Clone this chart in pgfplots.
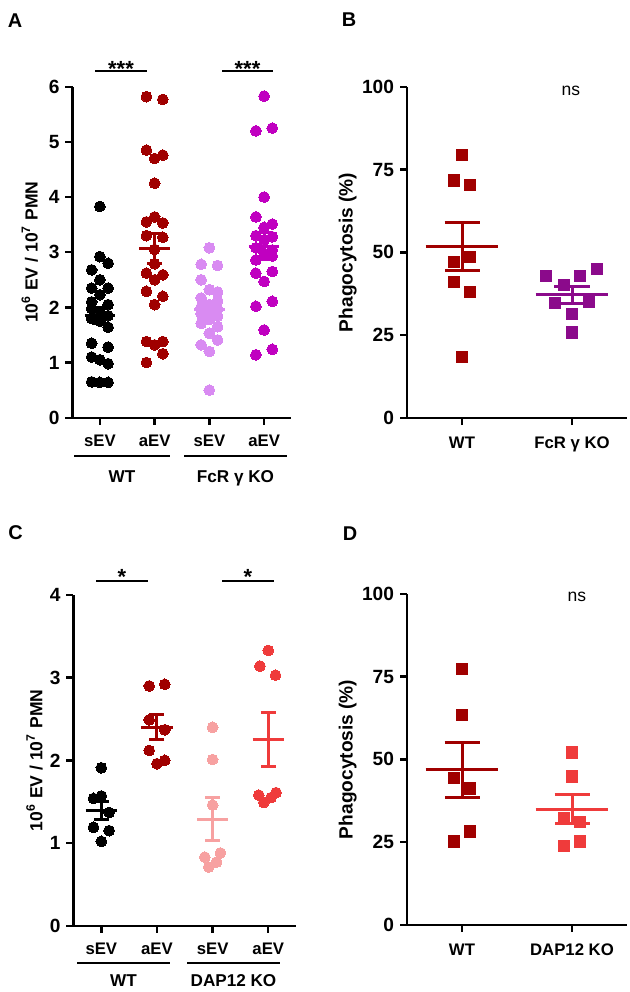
\documentclass[border=0pt]{standalone}
\usepackage{fontspec}
\setmainfont{Liberation Sans}
\usepackage{pgfplots}
\pgfplotsset{compat=1.18}
\definecolor{cblack}{HTML}{000000}
\definecolor{cdred}{HTML}{A00000}
\definecolor{clvio}{HTML}{D98BF2}
\definecolor{cmag}{HTML}{C000C0}
\definecolor{cpur}{HTML}{8B0A8B}
\definecolor{cpink}{HTML}{F7A1A1}
\definecolor{cred}{HTML}{EF3B3B}

\pgfplotsset{
 gp/.style={scale only axis, axis lines*=left,
  axis line style={line width=1.2bp, black},
  tick style={line width=1.2bp, black}, major tick length=3.5bp, tick align=outside,
  clip=false, ymin=0,
  /pgf/number format/assume math mode=true,
  yticklabel={\textbf{\pgfmathprintnumber{\tick}}},
  yticklabel style={font=\bfseries\fontsize{9.6}{10}\selectfont, xshift=0.5bp},
  xticklabel style={font=\bfseries\fontsize{8.4}{9}\selectfont, yshift=-1.5bp},
  ylabel style={font=\bfseries\fontsize{8.8}{10}\selectfont, anchor=center},
 },
 dots/.style={only marks, mark=*, mark size=2.7bp, mark options={fill=#1, draw=#1, line width=0pt}},
 squares/.style={only marks, mark=square*, mark size=2.8bp, mark options={fill=#1, draw=#1, line width=0pt}},
 meanl/.style={#1, line width=1.5bp, mark=none},
 sem/.style 2 args={mark=none, #1, forget plot, error bars/.cd, y dir=both, y explicit,
   error mark=-,
   error bar style={line width=1.5bp, #1}, error mark options={rotate=90, #1, line width=1.5bp, mark size=#2}},
}

\begin{document}
\begin{tikzpicture}
\useasboundingbox (0,0) rectangle (315bp,-496bp);

% ---------------- Panel A ----------------
\begin{axis}[gp, at={(36.25bp,-208.85bp)}, anchor=south west,
  width=109.5bp, height=165.5bp, xmin=0.5, xmax=4.5, ymax=6,
  ytick={0,1,2,3,4,5,6}, xtick={1,2,3,4}, xticklabels={sEV,aEV,sEV,aEV},
  ylabel={10\textsuperscript{6} EV / 10\textsuperscript{7} PMN},
  ylabel style={at={(axis description cs:-0.195,0.5)}}]
\addplot[dots=cblack] table {
x y
1.00 3.83
1.00 2.92
1.15 2.80
0.85 2.68
1.00 2.50
0.85 2.35
1.15 2.35
1.00 2.23
0.85 2.10
1.15 2.05
0.85 1.98
1.00 1.92
1.15 1.85
0.85 1.80
1.00 1.75
1.15 1.64
0.85 1.35
1.15 1.28
0.85 1.10
1.00 1.05
1.15 0.98
0.85 0.65
1.00 0.64
1.15 0.64
};
\addplot[dots=cdred] table {
x y
1.85 5.82
2.15 5.77
1.85 4.85
2.00 4.70
2.15 4.76
2.00 4.25
2.00 3.64
1.85 3.55
2.15 3.53
1.85 3.30
2.15 3.27
2.00 3.05
2.00 2.79
1.85 2.62
2.15 2.59
2.00 2.50
1.85 2.29
2.15 2.20
2.00 2.05
1.85 1.38
2.15 1.38
2.00 1.32
2.15 1.16
1.85 1.00
};
\addplot[dots=clvio] table {
x y
3.00 3.08
2.85 2.78
3.15 2.76
2.85 2.50
3.00 2.32
3.15 2.28
2.85 2.17
3.15 2.12
3.00 2.05
2.85 2.00
3.15 1.97
3.00 1.93
2.85 1.88
3.15 1.84
3.00 1.78
2.85 1.71
3.15 1.65
3.00 1.53
3.15 1.41
2.85 1.32
3.00 1.20
3.00 0.50
};
\addplot[dots=cmag] table {
x y
4.00 5.83
3.85 5.20
4.15 5.25
4.00 4.00
3.85 3.64
4.15 3.51
4.00 3.45
3.85 3.30
4.15 3.28
4.00 3.22
3.85 3.08
4.15 3.04
4.00 2.98
4.15 2.93
3.85 2.86
4.15 2.65
3.85 2.62
4.00 2.47
4.15 2.11
3.85 2.02
4.00 1.59
4.15 1.24
3.85 1.14
};
\addplot[meanl=cblack] coordinates {(0.72,1.85) (1.28,1.85)};
\addplot[sem={cblack}{3.75bp}] coordinates {(1,1.85) +- (0,0.15)};
\addplot[meanl=cdred] coordinates {(1.72,3.07) (2.28,3.07)};
\addplot[sem={cdred}{3.75bp}] coordinates {(2,3.07) +- (0,0.27)};
\addplot[meanl=clvio] coordinates {(2.72,1.96) (3.28,1.96)};
\addplot[sem={clvio}{3.75bp}] coordinates {(3,1.96) +- (0,0.12)};
\addplot[meanl=cmag] coordinates {(3.72,3.11) (4.28,3.11)};
\addplot[sem={cmag}{3.75bp}] coordinates {(4,3.11) +- (0,0.24)};
\end{axis}

% ---------------- Panel B ----------------
\begin{axis}[gp, at={(203.5bp,-209bp)}, anchor=south west,
  width=110bp, height=165.65bp, xmin=0.5, xmax=2.5, ymax=100,
  ytick={0,25,50,75,100}, xtick={1,2}, xticklabels={WT,FcR γ KO},
  xticklabel style={yshift=-1bp},
  ylabel={Phagocytosis (\%)},
  ylabel style={font=\bfseries\fontsize{9.6}{10}\selectfont, at={(axis description cs:-0.27,0.5)}}]
\addplot[squares=cdred] table {
x y
1.000 79.4
0.924 71.7
1.076 70.3
0.924 47.0
1.076 48.5
0.924 41.0
1.076 38.0
1.000 18.4
};
\addplot[squares=cpur] table {
x y
1.767 42.9
1.924 40.2
2.076 42.9
2.227 45.0
1.848 34.7
2.152 34.9
2.000 31.5
2.000 25.8
};
\addplot[meanl=cdred] coordinates {(0.67,51.8) (1.33,51.8)};
\addplot[sem={cdred}{8.75bp}] coordinates {(1,51.8) +- (0,7.2)};
\addplot[meanl=cpur] coordinates {(1.67,37.2) (2.33,37.2)};
\addplot[sem={cpur}{8.75bp}] coordinates {(2,37.2) +- (0,2.5)};
\end{axis}

% ---------------- Panel C ----------------
\begin{axis}[gp, at={(36.75bp,-462.85bp)}, anchor=south west,
  width=111.3bp, height=165.35bp, xmin=0.5, xmax=4.5, ymax=4,
  ytick={0,1,2,3,4}, xtick={1,2,3,4}, xticklabels={sEV,aEV,sEV,aEV},
  ylabel={10\textsuperscript{6} EV / 10\textsuperscript{7} PMN},
  ylabel style={at={(axis description cs:-0.175,0.5)}}]
\addplot[dots=cblack] table {
x y
1.00 1.91
0.86 1.54
1.00 1.57
1.14 1.37
0.86 1.19
1.14 1.15
1.00 1.02
};
\addplot[dots=cdred] table {
x y
1.86 2.90
2.14 2.92
1.86 2.49
2.14 2.37
1.86 2.12
2.00 1.96
2.14 2.00
};
\addplot[dots=cpink] table {
x y
3.00 2.40
3.00 2.01
3.00 1.46
2.86 0.83
3.14 0.88
2.93 0.71
3.07 0.77
};
\addplot[dots=cred] table {
x y
4.00 3.33
3.85 3.14
4.13 3.03
3.83 1.58
3.92 1.49
4.05 1.55
4.14 1.61
};
\addplot[meanl=cblack] coordinates {(0.72,1.39) (1.28,1.39)};
\addplot[sem={cblack}{3.75bp}] coordinates {(1,1.39) +- (0,0.11)};
\addplot[meanl=cdred] coordinates {(1.72,2.40) (2.28,2.40)};
\addplot[sem={cdred}{3.75bp}] coordinates {(2,2.40) +- (0,0.15)};
\addplot[meanl=cpink] coordinates {(2.72,1.29) (3.28,1.29)};
\addplot[sem={cpink}{3.75bp}] coordinates {(3,1.29) +- (0,0.26)};
\addplot[meanl=cred] coordinates {(3.72,2.25) (4.28,2.25)};
\addplot[sem={cred}{3.75bp}] coordinates {(4,2.25) +- (0,0.33)};
\end{axis}

% ---------------- Panel D ----------------
\begin{axis}[gp, at={(203.5bp,-462.5bp)}, anchor=south west,
  width=110bp, height=165.65bp, xmin=0.5, xmax=2.5, ymax=100,
  ytick={0,25,50,75,100}, xtick={1,2}, xticklabels={WT,DAP12 KO},
  xticklabel style={yshift=-1bp},
  ylabel={Phagocytosis (\%)},
  ylabel style={font=\bfseries\fontsize{9.6}{10}\selectfont, at={(axis description cs:-0.27,0.5)}}]
\addplot[squares=cdred] table {
x y
1.000 77.3
1.000 63.4
0.924 44.3
1.076 41.2
1.076 28.2
0.924 25.2
};
\addplot[squares=cred] table {
x y
2.000 52.1
2.000 44.8
1.924 32.4
2.076 31.0
1.924 23.9
2.076 25.2
};
\addplot[meanl=cdred] coordinates {(0.67,46.8) (1.33,46.8)};
\addplot[sem={cdred}{8.75bp}] coordinates {(1,46.8) +- (0,8.3)};
\addplot[meanl=cred] coordinates {(1.67,34.9) (2.33,34.9)};
\addplot[sem={cred}{8.75bp}] coordinates {(2,34.9) +- (0,4.4)};
\end{axis}

% ---------------- annotations ----------------
\tikzset{lett/.style={font=\bfseries\fontsize{10}{11}\selectfont, inner sep=0pt},
         grp/.style={font=\bfseries\fontsize{8.6}{9}\selectfont, inner sep=0pt, anchor=base},
         star/.style={font=\bfseries\fontsize{11}{12}\selectfont, inner sep=0pt, anchor=base},
         nsl/.style={font=\fontsize{8.8}{9}\selectfont, inner sep=0pt, anchor=base}}
\node[lett] at (7.5bp,-10.5bp) {A};
\node[lett] at (174.5bp,-10bp) {B};
\node[lett] at (7.75bp,-266.5bp) {C};
\node[lett] at (175bp,-267bp) {D};

% significance A
\draw[line width=1.3bp] (47.5bp,-35.5bp) -- (73.5bp,-35.5bp);
\draw[line width=1.3bp] (111bp,-35.5bp) -- (136.5bp,-35.5bp);
\node[star] at (60.5bp,-38.2bp) {***};
\node[star] at (123.75bp,-38.2bp) {***};
% significance C
\draw[line width=1.3bp] (48bp,-290.5bp) -- (74bp,-290.5bp);
\draw[line width=1.3bp] (111bp,-290.5bp) -- (137bp,-290.5bp);
\node[star] at (61bp,-292bp) {*};
\node[star] at (124bp,-292bp) {*};

% group lines A
\draw[line width=1.1bp] (37bp,-228bp) -- (85bp,-228bp);
\draw[line width=1.1bp] (92bp,-228bp) -- (143.5bp,-228bp);
\node[grp] at (61bp,-241.2bp) {WT};
\node[grp] at (117.75bp,-241.2bp) {FcR γ KO};
% group lines C
\draw[line width=1.1bp] (38.5bp,-481.3bp) -- (85bp,-481.3bp);
\draw[line width=1.1bp] (93.5bp,-481.3bp) -- (140bp,-481.3bp);
\node[grp] at (61.75bp,-493.3bp) {WT};
\node[grp] at (116.75bp,-493.3bp) {DAP12 KO};

% ns
\node[nsl] at (285.5bp,-47.7bp) {ns};
\node[nsl] at (288.5bp,-300.7bp) {ns};
\end{tikzpicture}
\end{document}
